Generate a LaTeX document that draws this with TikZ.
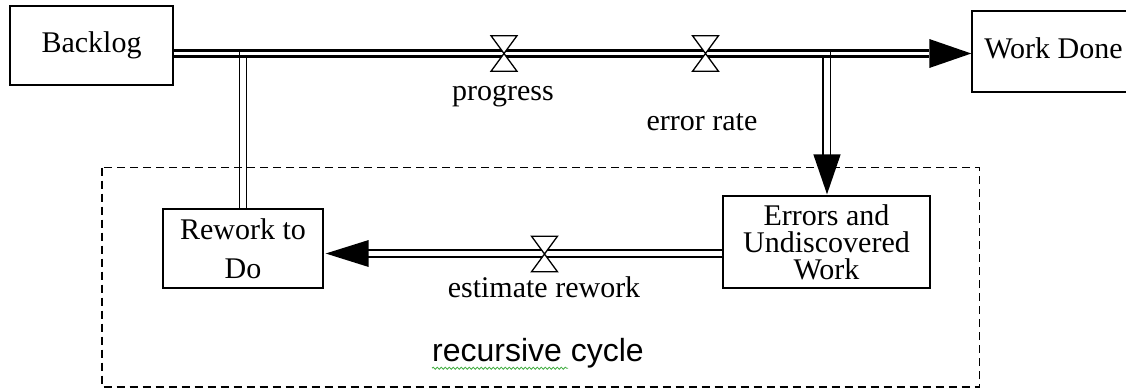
\documentclass[tikz,border=0pt]{standalone}
\usepackage{fontspec}
\setmainfont{Liberation Serif}
\newfontfamily\labelsans{Liberation Sans}
\usetikzlibrary{calc,decorations.pathmorphing}
\definecolor{spellgreen}{RGB}{70,175,70}
\tikzset{
  stock/.style={draw, line width=1.4pt, inner sep=0pt, align=center,
    font=\fontsize{30}{36}\selectfont},
  oneline/.style={text height=20.5pt, text depth=7pt},
  mainpipe/.style={draw, line width=2.7pt, double=white, double distance=3pt},
  sidepipe/.style={draw, line width=1.5pt, double=white, double distance=5.5pt},
  pipeline/.style={line width=1.5pt},
  flowlabel/.style={anchor=base, inner sep=0pt, font=\fontsize{30}{36}\selectfont},
  cycleframe/.style={line width=1.4pt, dash pattern=on 8pt off 5pt},
  valve/.pic={\draw[line width=1.3pt, fill=white]
    (-13,-17.8) -- (13,-17.8) -- (0,0) -- (13,17.8) -- (-13,17.8) -- (0,0) -- cycle;},
}
\begin{document}
\begin{tikzpicture}[x=1pt,y=-1pt]
\useasboundingbox (0,0) rectangle (1126,389);

% dashed frame around the rework loop
\draw[cycleframe] (102,167.5) rectangle (979.5,387);

% stocks
\node[stock, oneline, minimum width=163pt, minimum height=79pt] (backlog) at (91.5,45.5) {Backlog};
\node[stock, oneline, minimum width=163pt, minimum height=81pt] (done) at (1053.5,51.5) {Work Done};
\node[stock, minimum width=160pt, minimum height=79pt,
      font=\fontsize{30}{39}\selectfont] (rework) at (243,248.5) {Rework to\\Do};
\node[stock, minimum width=207pt, minimum height=92pt,
      font=\fontsize{30}{27}\selectfont] (errors) at (826.5,242) {Errors and\\Undiscovered\\Work};

% flow levels
\coordinate (topflow) at (0,53.5);
\coordinate (reflow) at (0,253.5);

% main flow: Backlog -> Work Done
\draw[mainpipe] (backlog.east |- topflow) -- ($(done.west |- topflow)+(-42,0)$);
\fill (done.west |- topflow) -- ++(-42,-14.5) -- ++(0,29) -- cycle;

% rework feeds back into the main flow
\draw[pipeline] ($(rework.north)+(-3.5,0)$) -- ($(rework.north |- topflow)+(-3.5,-2.5)$);
\draw[pipeline] ($(rework.north)+(3.5,0)$) -- ($(rework.north |- topflow)+(3.5,2.5)$);

% errors branch off the main flow
\draw[pipeline] ($(errors.north |- topflow)+(-3.5,2.5)$) -- ($(errors.north)+(-3.5,-40)$);
\draw[pipeline] ($(errors.north |- topflow)+(4,-2.5)$) -- ($(errors.north)+(4,-40)$);
\fill ($(errors.north)+(0.5,-1)$) -- ++(-13.7,-40) -- ++(27.4,0) -- cycle;

% estimate rework: Errors -> Rework to Do
\draw[sidepipe] (errors.west |- reflow) -- ($(rework.east |- reflow)+(44,0)$);
\fill ($(rework.east |- reflow)+(2,0)$) -- ++(43,-13.5) -- ++(0,27) -- cycle;

% valves
\coordinate (vprog) at (504,53.5);
\coordinate (verr) at (705.5,53.5);
\coordinate (vest) at (544.5,254);
\pic at (vprog) {valve};
\pic at (verr) {valve};
\pic at (vest) {valve};

% flow labels
\node[flowlabel] (lprog) at (503,100) {progress};
\node[flowlabel] (lerr) at (702,130) {error rate};
\node[flowlabel] (lest) at (544,297.7) {estimate rework};
\node[flowlabel, font=\fontsize{32}{38}\labelsans] (lcycle) at (538,361.7) {recursive cycle};
\draw[spellgreen, line width=0.8pt, decorate,
      decoration={snake, amplitude=1.1pt, segment length=4pt}]
  ($(lcycle.base west)+(0,6.5)$) -- ++(136,0);
\end{tikzpicture}
\end{document}
